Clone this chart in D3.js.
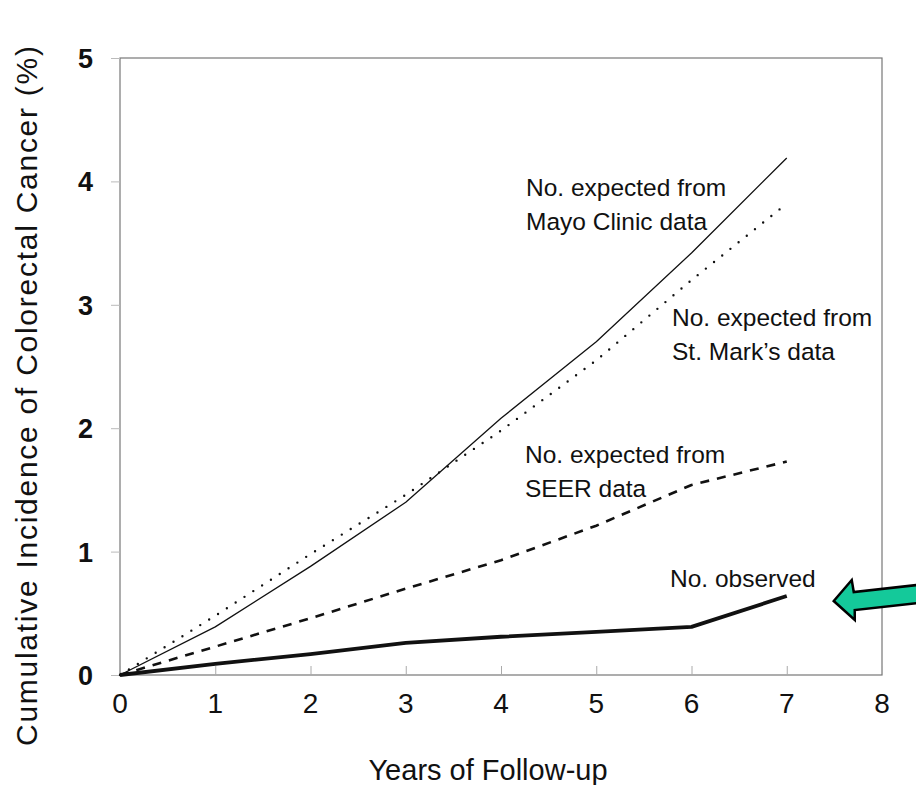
<!DOCTYPE html>
<html>
<head>
<meta charset="utf-8">
<script src="https://cdn.jsdelivr.net/npm/d3@7"></script>
<style>
  body { margin: 0; background: #fff; }
  #chart { width: 916px; height: 785px; }
  svg { display: block; }
  text { font-family: "Liberation Sans", Arial, Helvetica, sans-serif; fill: #111; }
</style>
</head>
<body>
<div id="chart"></div>
<script>
// -------------------------------
// Data
// -------------------------------
const years = [0, 1, 2, 3, 4, 5, 6, 7];
const mayoClinic = [0, 0.39, 0.88, 1.40, 2.08, 2.70, 3.42, 4.19];
const stMarks = [0, 0.48, 0.98, 1.46, 1.98, 2.55, 3.20, 3.82];
const seer = [0, 0.23, 0.46, 0.70, 0.93, 1.21, 1.54, 1.73];
const observed = [0, 0.09, 0.17, 0.26, 0.31, 0.35, 0.39, 0.64];

const xTicks = [0, 1, 2, 3, 4, 5, 6, 7, 8];
const yTicks = [0, 1, 2, 3, 4, 5];

const xTitle = "Years of Follow-up";
const yTitle = "Cumulative Incidence of Colorectal Cancer (%)";

// -------------------------------
// Layout
// -------------------------------
const svgWidth = 916;
const svgHeight = 785;
const margin = { top: 58, right: 34, bottom: 110, left: 120 };
const innerWidth = 882 - margin.left;
const innerHeight = 675 - margin.top;

const svg = d3.select("#chart")
  .append("svg")
  .attr("width", svgWidth)
  .attr("height", svgHeight);

// -------------------------------
// Scales (in page coordinates)
// -------------------------------
const xScale = d3.scaleLinear().domain([0, 8]).range([margin.left, margin.left + innerWidth]);
const yScale = d3.scaleLinear().domain([0, 5]).range([margin.top + innerHeight, margin.top]);

// frame
svg.append("rect")
  .attr("x", margin.left).attr("y", margin.top)
  .attr("width", innerWidth).attr("height", innerHeight)
  .attr("fill", "none")
  .attr("stroke", "#777")
  .attr("stroke-width", 1.2);

// x axis: small ticks pointing inward (labels drawn below)
const xAxis = svg.append("g")
  .attr("transform", `translate(0, ${margin.top + innerHeight})`)
  .call(d3.axisBottom(xScale).tickValues(xTicks).tickSize(-9));
xAxis.select(".domain").remove();
xAxis.selectAll("text").remove();
xAxis.selectAll("line").attr("stroke", "#aaa");

svg.append("g")
  .selectAll("text")
  .data(xTicks)
  .join("text")
  .attr("x", (d) => xScale(d))
  .attr("y", yScale(0) + 38)
  .attr("text-anchor", "middle")
  .attr("font-size", 28)
  .text(d3.format("d"));

// y axis: small ticks outside
const yAxis = svg.append("g")
  .attr("transform", `translate(${margin.left}, 0)`)
  .call(d3.axisLeft(yScale).tickValues(yTicks).tickSize(9));
yAxis.select(".domain").remove();
yAxis.selectAll("text").remove();
yAxis.selectAll("line").attr("stroke", "#bbb");

svg.append("g")
  .selectAll("text")
  .data(yTicks)
  .join("text")
  .attr("x", margin.left - 27)
  .attr("y", (d) => yScale(d) + 10)
  .attr("text-anchor", "end")
  .attr("font-size", 27)
  .attr("font-weight", "bold")
  .text(d3.format("d"));

// -------------------------------
// Lines
// -------------------------------
const lineGenerator = d3.line()
  .x((d) => xScale(d.year))
  .y((d) => yScale(d.value));

const seriesList = [
  { values: mayoClinic, width: 1.3, dash: null, cap: "butt" },
  { values: stMarks, width: 2.4, dash: "0,10.5", cap: "round" },
  { values: seer, width: 2.6, dash: "9,8", cap: "butt" },
  { values: observed, width: 3.8, dash: null, cap: "butt" },
];

seriesList.forEach((s) => {
  const points = years.map((y, i) => ({ year: y, value: s.values[i] }));
  svg.append("path")
    .datum(points)
    .attr("d", lineGenerator)
    .attr("fill", "none")
    .attr("stroke", "#111")
    .attr("stroke-width", s.width)
    .attr("stroke-linecap", s.cap)
    .attr("stroke-linejoin", "round")
    .attr("stroke-dasharray", s.dash);
});

// -------------------------------
// Labels
// -------------------------------
const labels = [
  { x: 526, y: 196, lines: ["No. expected from", "Mayo Clinic data"] },
  { x: 672, y: 326, lines: ["No. expected from", "St. Mark\u2019s data"] },
  { x: 525, y: 463, lines: ["No. expected from", "SEER data"] },
  { x: 670, y: 587, lines: ["No. observed"] },
];

labels.forEach((lab) => {
  lab.lines.forEach((t, i) => {
    svg.append("text")
      .attr("x", lab.x)
      .attr("y", lab.y + i * 34)
      .attr("font-size", 24.5)
      .text(t);
  });
});

// arrow pointing at the observed line
const tipX = xScale(7) + 47;
const tipY = yScale(observed[7]) + 5;
const arrowPath = d3.path();
arrowPath.moveTo(tipX, tipY);
arrowPath.lineTo(tipX + 18, tipY - 21);
arrowPath.lineTo(tipX + 20, tipY - 9);
arrowPath.lineTo(svgWidth + 10, tipY - 17);
arrowPath.lineTo(svgWidth + 10, tipY + 1);
arrowPath.lineTo(tipX + 21, tipY + 9);
arrowPath.lineTo(tipX + 21, tipY + 19);
arrowPath.closePath();

svg.append("path")
  .attr("d", arrowPath.toString())
  .attr("fill", "#14c99a")
  .attr("stroke", "#000")
  .attr("stroke-width", 2.5)
  .attr("stroke-linejoin", "miter");

// axis titles
svg.append("text")
  .attr("x", 488)
  .attr("y", 780)
  .attr("text-anchor", "middle")
  .attr("font-size", 29)
  .text(xTitle);

svg.append("text")
  .attr("transform", "translate(37, 396) rotate(-90)")
  .attr("text-anchor", "middle")
  .attr("font-size", 30)
  .attr("textLength", 700)
  .text(yTitle);
</script>
</body>
</html>
